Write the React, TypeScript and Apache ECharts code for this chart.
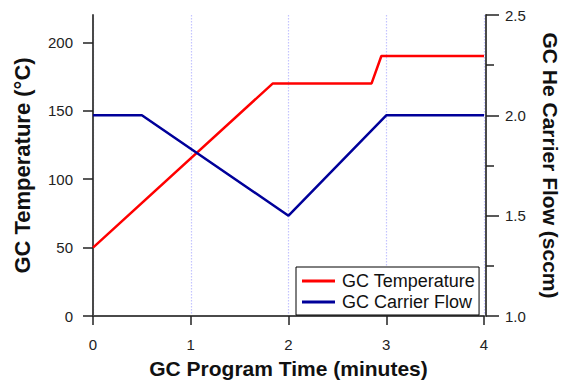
import React, { useEffect, useRef } from "react";
import * as echarts from "echarts";

// GC oven program: time (minutes) vs. temperature (°C)
const tempTime = [0, 1.84, 2.85, 2.95, 4];
const tempValues = [50, 170, 170, 190, 190];

// He carrier flow program: time (minutes) vs. flow (sccm)
const flowTime = [0, 0.5, 2, 3, 4];
const flowValues = [2.0, 2.0, 1.5, 2.0, 2.0];

const tempTicks = [0, 50, 100, 150, 200];
const timeTicks = [0, 1, 2, 3, 4];

const FONT = "Arial, 'Liberation Sans', Helvetica, sans-serif";
const AXIS_COLOR = "#4a4a4a";

export default function App() {
  const ref = useRef<HTMLDivElement>(null);

  useEffect(() => {
    if (!ref.current) return;
    const chart = echarts.init(ref.current, undefined, { renderer: "svg" });

    const titleStyle = { fontFamily: FONT, fontSize: 21, fontWeight: "bold" as const, color: "#111" };
    const labelStyle = { fontFamily: FONT, fontSize: 15, color: "#222" };

    chart.setOption({
      animation: false,
      backgroundColor: "#fff",
      textStyle: { fontFamily: FONT },
      grid: { left: 93, right: 82, top: 15, bottom: 65, containLabel: false, outerBoundsMode: "none" },
      legend: {
        left: 296,
        top: 267,
        orient: "vertical",
        icon: "rect",
        itemWidth: 33,
        itemHeight: 3,
        itemGap: 3,
        padding: [5, 4, 4, 6],
        borderColor: "#000",
        borderWidth: 1,
        backgroundColor: "#fff",
        textStyle: { fontFamily: FONT, fontSize: 18, color: "#111", padding: [0, 0, 0, 2] },
        data: ["GC Temperature", "GC Carrier Flow"],
      },
      xAxis: {
        type: "value",
        min: 0,
        max: 4,
        interval: 1,
        offset: 3,
        name: "GC Program Time (minutes)",
        nameLocation: "middle",
        nameGap: 39,
        nameTextStyle: titleStyle,
        axisLine: { show: true, lineStyle: { color: AXIS_COLOR, width: 2 } },
        axisTick: { show: true, length: 9, lineStyle: { color: "#222", width: 1.5 } },
        axisLabel: { ...labelStyle, margin: 18, customValues: timeTicks },
        splitLine: { show: true, lineStyle: { color: "#c4c4ff", type: [1.5, 1.5], width: 1.2 } },
      },
      yAxis: [
        {
          type: "value",
          min: 0,
          max: 220,
          offset: 3,
          position: "left",
          name: "GC Temperature (°C)",
          nameLocation: "middle",
          nameGap: 57,
          nameTextStyle: { ...titleStyle, fontSize: 22 },
          axisLine: { show: true, lineStyle: { color: AXIS_COLOR, width: 2 } },
          axisTick: { show: true, length: 10, customValues: tempTicks, lineStyle: { color: "#222", width: 1.5 } },
          axisLabel: { ...labelStyle, margin: 17, customValues: tempTicks },
          splitLine: { show: false },
        },
        {
          type: "value",
          min: 1.0,
          max: 2.5,
          interval: 0.5,
          offset: 2,
          position: "right",
          name: "GC He Carrier Flow (sccm)",
          nameLocation: "middle",
          nameGap: 54,
          nameRotate: -90,
          nameTextStyle: titleStyle,
          axisLine: { show: true, lineStyle: { color: AXIS_COLOR, width: 2 } },
          axisTick: { show: true, length: 13, lineStyle: { color: "#222", width: 1.5 } },
          minorTick: { show: true, splitNumber: 2, length: 8, lineStyle: { color: "#222", width: 1.5 } },
          axisLabel: { ...labelStyle, margin: 19, formatter: (v: number) => v.toFixed(1) },
          splitLine: { show: false },
        },
      ],
      series: [
        {
          name: "GC Temperature",
          type: "line",
          yAxisIndex: 0,
          data: tempTime.map((t, i) => [t, tempValues[i]]),
          showSymbol: false,
          symbol: "none",
          color: "#ff0000",
          lineStyle: { color: "#ff0000", width: 2.5 },
        },
        {
          name: "GC Carrier Flow",
          type: "line",
          yAxisIndex: 1,
          data: flowTime.map((t, i) => [t, flowValues[i]]),
          showSymbol: false,
          symbol: "none",
          color: "#00009a",
          lineStyle: { color: "#00009a", width: 2.5 },
        },
      ],
    });

    return () => chart.dispose();
  }, []);

  return (
    <div
      ref={ref}
      style={{ position: "fixed", left: 0, top: 0, width: 566, height: 381 }}
    />
  );
}
